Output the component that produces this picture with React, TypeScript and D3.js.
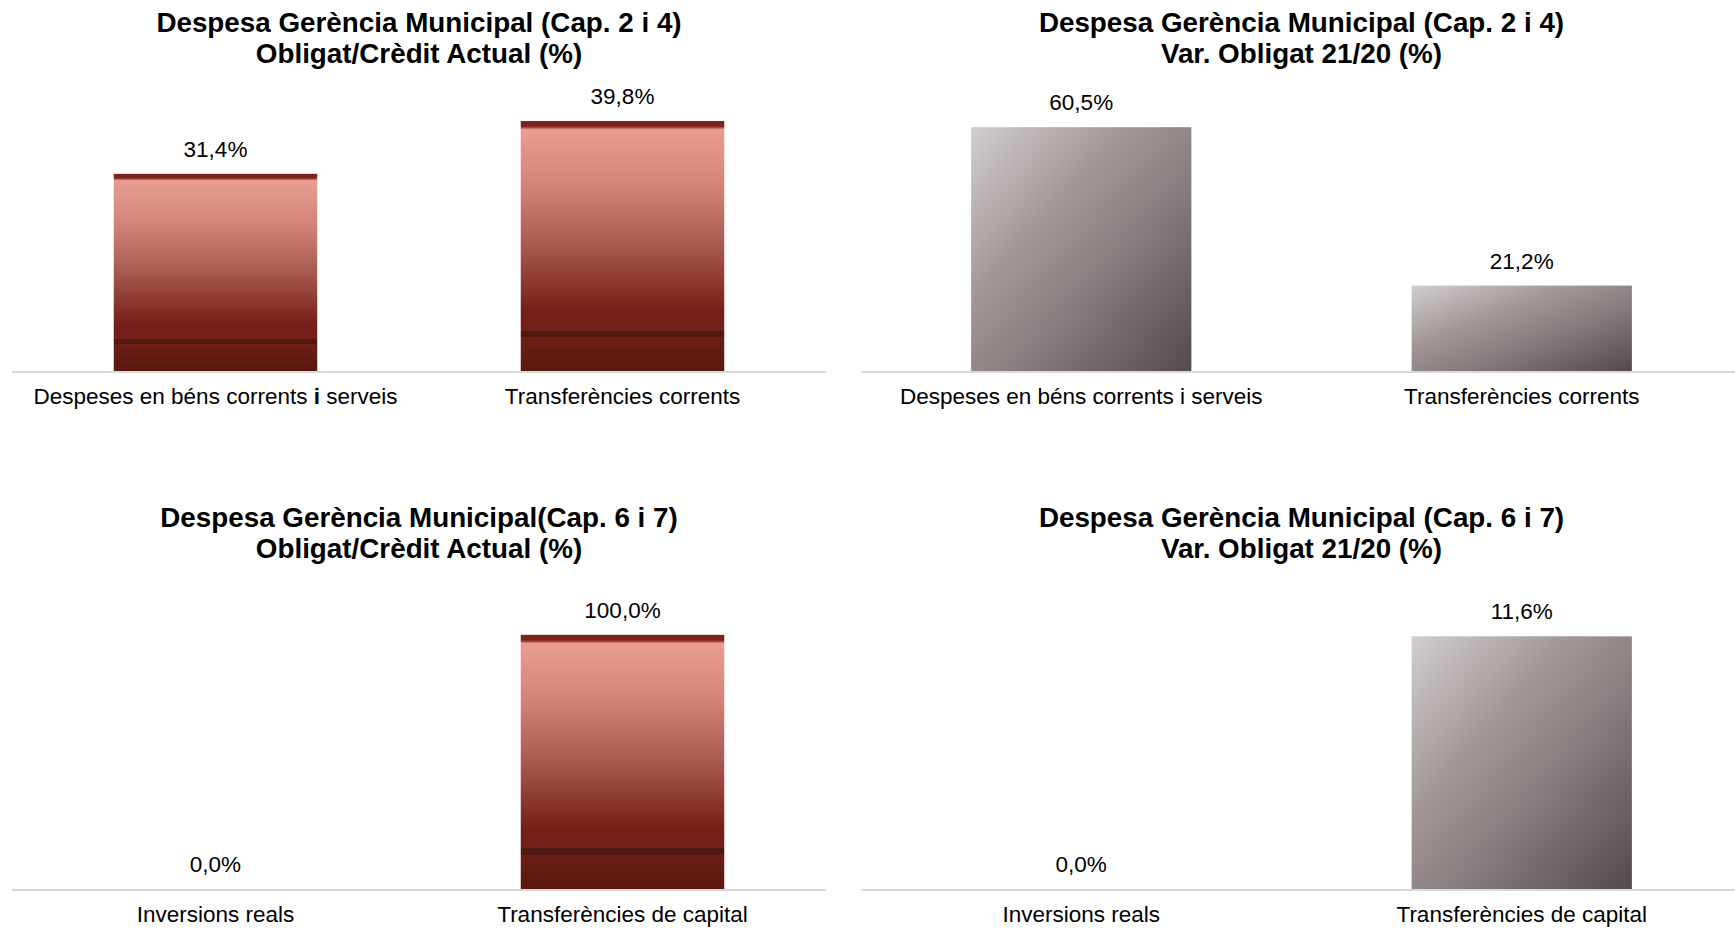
import React from "react";
import * as d3 from "d3";

const catsCap24 = ["Despeses en béns corrents i serveis", "Transferències corrents"];
const catsCap67 = ["Inversions reals", "Transferències de capital"];
const oblCap24 = [31.4, 39.8];
const varCap24 = [60.5, 21.2];
const oblCap67 = [0.0, 100.0];
const varCap67 = [0.0, 11.6];

const titlesTL = ["Despesa Gerència Municipal (Cap. 2 i 4)", "Obligat/Crèdit Actual (%)"];
const titlesTR = ["Despesa Gerència Municipal (Cap. 2 i 4)", "Var. Obligat 21/20 (%)"];
const titlesBL = ["Despesa Gerència Municipal(Cap. 6 i 7)", "Obligat/Crèdit Actual (%)"];
const titlesBR = ["Despesa Gerència Municipal (Cap. 6 i 7)", "Var. Obligat 21/20 (%)"];

const FONT = "'Liberation Sans', Arial, Helvetica, sans-serif";
const fmt = (v: number) => d3.format(".1f")(v).replace(".", ",") + "%";

type Panel = {
  id: string;
  x0: number;
  x1: number;
  base: number;
  plotH: number;
  axisMax: number;
  titleY: number;
  titles: string[];
  cats: string[];
  values: number[];
  fill: string;
  boldI?: boolean;
};

const panels: Panel[] = [
  { id: "tl", x0: 12, x1: 826, base: 371, plotH: 282.6, axisMax: 45, titleY: 32, titles: titlesTL, cats: catsCap24, values: oblCap24, fill: "url(#redGrad)", boldI: true },
  { id: "tr", x0: 861, x1: 1742, base: 371, plotH: 282.1, axisMax: 70, titleY: 32, titles: titlesTR, cats: catsCap24, values: varCap24, fill: "url(#grayGrad)" },
  { id: "bl", x0: 12, x1: 826, base: 889, plotH: 305, axisMax: 120, titleY: 527, titles: titlesBL, cats: catsCap67, values: oblCap67, fill: "url(#redGrad)" },
  { id: "br", x0: 861, x1: 1742, base: 889, plotH: 305, axisMax: 14, titleY: 527, titles: titlesBR, cats: catsCap67, values: varCap67, fill: "url(#grayGrad)" },
];

function PanelView({ p }: { p: Panel }) {
  const x = d3.scaleBand<string>().domain(p.cats).range([p.x0, p.x1]).paddingInner(0.5).paddingOuter(0.25);
  const y = d3.scaleLinear().domain([0, p.axisMax]).range([p.base, p.base - p.plotH]);
  const cx = (p.x0 + p.x1) / 2;
  return (
    <g>
      {p.titles.map((t, i) => (
        <text key={i} x={cx} y={p.titleY + i * 31} textAnchor="middle" fontSize={27.8} fontWeight="bold" fill="#000" fontFamily={FONT}>
          {t}
        </text>
      ))}
      {p.values.map((v, i) => {
        const c = p.cats[i];
        const bx = x(c)!;
        const top = y(v);
        return (
          <g key={c}>
            {v > 0 && <rect x={bx} y={top} width={x.bandwidth()} height={p.base - top} fill={p.fill} />}
            <text x={bx + x.bandwidth() / 2} y={top - 17} textAnchor="middle" fontSize={22.5} fill="#000" fontFamily={FONT}>
              {fmt(v)}
            </text>
          </g>
        );
      })}
      <line x1={p.x0} x2={p.x1} y1={p.base + 1} y2={p.base + 1} stroke="#d9d9d9" strokeWidth={2.2} />
      {p.cats.map((c) => {
        const lx = x(c)! + x.bandwidth() / 2;
        if (p.boldI && c.includes(" i ")) {
          const [a, b] = c.split(" i ");
          return (
            <text key={c} x={lx} y={p.base + 33} textAnchor="middle" fontSize={22.5} fill="#000" fontFamily={FONT}>
              {a + " "}
              <tspan fontWeight="bold">i</tspan>
              {" " + b}
            </text>
          );
        }
        return (
          <text key={c} x={lx} y={p.base + 33} textAnchor="middle" fontSize={22.5} fill="#000" fontFamily={FONT}>
            {c}
          </text>
        );
      })}
    </g>
  );
}

export default function App() {
  return (
    <svg width={1735} height={931} style={{ position: "absolute", left: 0, top: 0, background: "#fff" }}>
      <defs>
        <linearGradient id="redGrad" x1="0" y1="0" x2="0" y2="1">
          <stop offset="0" stopColor="#7b2219" />
          <stop offset="0.02" stopColor="#7b2219" />
          <stop offset="0.026" stopColor="#a5483e" />
          <stop offset="0.034" stopColor="#e99c90" />
          <stop offset="0.25" stopColor="#d3857a" />
          <stop offset="0.5" stopColor="#a75a50" />
          <stop offset="0.74" stopColor="#7a241b" />
          <stop offset="0.76" stopColor="#73201a" />
          <stop offset="0.84" stopColor="#73201a" />
          <stop offset="0.84" stopColor="#521913" />
          <stop offset="0.865" stopColor="#521913" />
          <stop offset="0.865" stopColor="#6d1e17" />
          <stop offset="1" stopColor="#58180f" />
        </linearGradient>
        <linearGradient id="grayGrad" x1="0" y1="0" x2="1" y2="1">
          <stop offset="0" stopColor="#d3cdcd" />
          <stop offset="0.35" stopColor="#a29898" />
          <stop offset="0.6" stopColor="#877d7e" />
          <stop offset="1" stopColor="#544a4c" />
        </linearGradient>
      </defs>
      <rect x={0} y={0} width={1735} height={931} fill="#fff" />
      {panels.map((p) => (
        <PanelView key={p.id} p={p} />
      ))}
    </svg>
  );
}
